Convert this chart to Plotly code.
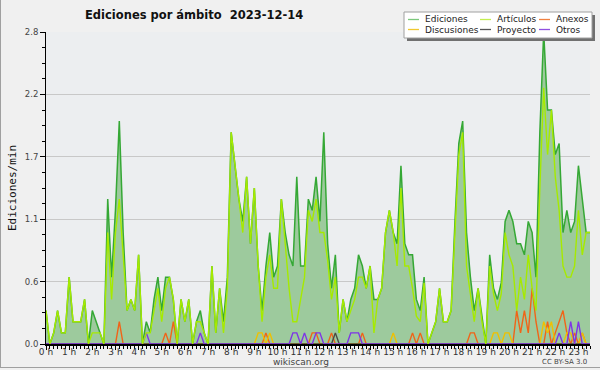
import plotly.graph_objects as go
import pandas as pd

DAY = "2023-12-14"
TITLE = "Ediciones por ámbito  2023-12-14"
Y_TITLE = "Ediciones/min"

# 10-minute slots from 00:00 to 23:30
times = pd.date_range(f"{DAY} 00:00", f"{DAY} 23:30", freq="10min")
slot_labels = [t.strftime("%H:%M") for t in times]

# Ediciones (total, edits/min averaged per 10 min), one row per hour
ediciones = [
    0.3, 0.0, 0.1, 0.3, 0.1, 0.1,
    0.6, 0.2, 0.2, 0.2, 0.4, 0.0,
    0.3, 0.2, 0.1, 0.0, 1.3, 0.6,
    1.2, 2.0, 1.0, 0.3, 0.4, 0.3,
    0.8, 0.0, 0.2, 0.1, 0.4, 0.6,
    0.3, 0.6, 0.6, 0.4, 0.0, 0.4,
    0.2, 0.4, 0.0, 0.2, 0.3, 0.1,
    0.0, 0.7, 0.1, 0.5, 0.2, 0.6,
    1.9, 1.6, 1.3, 1.1, 1.5, 0.9,
    1.4, 0.7, 0.3, 0.7, 1.0, 0.6,
    0.7, 1.3, 1.0, 0.8, 0.7, 1.5,
    0.7, 0.7, 1.3, 1.2, 1.5, 1.1,
    1.9, 0.9, 0.5, 0.8, 0.1, 0.4,
    0.2, 0.4, 0.5, 0.8, 0.7, 0.5,
    0.7, 0.4, 0.4, 0.5, 1.0, 1.2,
    1.0, 0.9, 1.6, 0.9, 0.8, 0.8,
    0.4, 0.3, 0.6, 0.0, 0.1, 0.2,
    0.5, 0.2, 0.2, 0.3, 1.1, 1.8,
    2.0, 1.0, 0.6, 0.3, 0.5, 0.25,
    0.0, 0.8, 0.5, 0.4, 0.55, 1.1,
    1.2, 1.1, 0.9, 0.9, 0.8, 1.1,
    1.0, 0.6, 1.9, 2.8, 2.1, 2.1,
    1.7, 1.8, 1.0, 1.2, 1.0, 1.1,
    1.6, 1.3, 1.0, 1.0,
]

articulos = [
    0.3, 0.0, 0.1, 0.3, 0.1, 0.1,
    0.6, 0.2, 0.2, 0.2, 0.4, 0.0,
    0.1, 0.1, 0.1, 0.0, 1.0, 0.4,
    1.0, 1.3, 0.8, 0.3, 0.4, 0.3,
    0.8, 0.0, 0.1, 0.1, 0.3, 0.5,
    0.2, 0.5, 0.6, 0.4, 0.0, 0.4,
    0.2, 0.4, 0.0, 0.2, 0.2, 0.1,
    0.0, 0.7, 0.1, 0.5, 0.1, 0.5,
    1.9, 1.6, 1.3, 1.0, 1.5, 0.9,
    1.4, 0.7, 0.2, 0.6, 0.8, 0.5,
    0.5, 1.3, 0.9, 0.5, 0.2, 0.2,
    0.4, 0.6, 1.2, 1.1, 1.3, 1.0,
    1.0, 0.75, 0.4, 0.6, 0.1, 0.4,
    0.2, 0.3, 0.4, 0.6, 0.6, 0.5,
    0.7, 0.1, 0.4, 0.5, 1.0, 1.2,
    1.0, 0.7, 1.4, 0.7, 0.7, 0.5,
    0.25, 0.2, 0.55, 0.0, 0.1, 0.2,
    0.5, 0.2, 0.2, 0.3, 1.0, 1.7,
    1.9, 0.7, 0.45, 0.2, 0.5, 0.2,
    0.0, 0.7, 0.45, 0.3, 0.45, 1.0,
    0.8, 0.7, 0.3, 0.6, 0.4, 0.8,
    0.5, 0.3, 1.4, 2.3, 1.7, 2.1,
    1.5, 1.2, 0.7, 0.6, 0.6, 0.7,
    1.2, 0.8, 1.0, 1.0,
]

# sparse series: slot -> value (all other slots are 0)
anexos_pts = {
    "03:10": 0.2, "05:10": 0.1, "05:30": 0.2, "09:30": 0.1, "11:30": 0.1,
    "11:40": 0.1, "12:20": 0.1, "13:40": 0.1, "15:50": 0.1, "16:10": 0.1,
    "18:20": 0.1, "18:30": 0.1, "20:20": 0.3, "20:30": 0.1, "20:40": 0.3,
    "20:50": 0.1, "21:00": 0.5, "21:10": 0.2, "21:40": 0.2, "22:00": 0.1,
    "22:10": 0.2, "22:20": 0.3, "22:30": 0.1, "22:50": 0.1, "23:10": 0.1,
}
discusiones_pts = {
    "09:10": 0.1, "09:20": 0.1, "09:40": 0.1, "15:00": 0.1, "19:20": 0.1,
    "19:30": 0.1, "19:50": 0.1, "20:00": 0.1, "21:30": 0.2, "21:40": 0.1,
    "21:50": 0.2, "22:30": 0.1, "22:40": 0.1, "23:10": 0.1,
}
proyecto_pts = {"12:30": 0.1}
otros_pts = {
    "04:20": 0.1, "06:40": 0.1, "10:40": 0.1, "10:50": 0.1, "11:10": 0.1,
    "11:40": 0.1, "11:50": 0.1, "13:10": 0.1, "13:20": 0.1, "13:30": 0.1,
    "22:10": 0.1, "22:40": 0.2, "23:00": 0.2,
}


def expand(pts):
    return [pts.get(s, 0.0) for s in slot_labels]


y_tickvals = [0.0, 0.56, 1.12, 1.68, 2.24, 2.8]
y_ticktext = ["0.0", "0.6", "1.1", "1.7", "2.2", "2.8"]

series_names = ["Ediciones", "Artículos", "Anexos", "Discusiones", "Proyecto", "Otros"]
series_colors = ["#35a835", "#a6ea00", "#f06418", "#f0c000", "#4a4a44", "#7e34e6"]
legend_colors = ["#7cc87c", "#c4ee50", "#f08040", "#f0c830", "#555555", "#9050e0"]
FILL = "#9dca9d"

series_values = [
    ediciones, articulos, expand(anexos_pts), expand(discusiones_pts),
    expand(proyecto_pts), expand(otros_pts),
]

fig = go.Figure()
fig.add_trace(go.Scatter(
    x=times, y=ediciones, mode="lines", name=series_names[0],
    fill="tozeroy", fillcolor=FILL,
    line=dict(color=series_colors[0], width=1.5), showlegend=False,
))
# small series first, then Artículos on top
for k in [2, 3, 4, 5, 1]:
    fig.add_trace(go.Scatter(
        x=times, y=series_values[k], mode="lines", name=series_names[k],
        line=dict(color=series_colors[k], width=1.4), showlegend=False,
    ))

# geometry helpers (pixels -> paper)
L, R, T, B = 46, 10, 32, 26
W, H = 600, 370
PW, PH = W - L - R, H - T - B


def px(x):
    return (x - L) / PW


def py(y):
    return (H - B - y) / PH


shapes = []
annotations = []

# legend box with shadow
shapes.append(dict(type="rect", xref="paper", yref="paper",
                   x0=px(407), x1=px(595), y0=py(41), y1=py(15),
                   fillcolor="#707070", line=dict(width=0), layer="above"))
shapes.append(dict(type="rect", xref="paper", yref="paper",
                   x0=px(404), x1=px(592), y0=py(38), y1=py(12),
                   fillcolor="#ffffff", line=dict(color="#a0a0a0", width=1), layer="above"))
col_x = [408, 480, 539]
row_y = [19.5, 29.5]
for n, k in enumerate(range(len(series_names))):
    c, r = n % 3, n // 3
    shapes.append(dict(type="line", xref="paper", yref="paper",
                       x0=px(col_x[c]), x1=px(col_x[c] + 11), y0=py(row_y[r]), y1=py(row_y[r]),
                       line=dict(color=legend_colors[k], width=1.3), layer="above"))
    annotations.append(dict(text=series_names[k], xref="paper", yref="paper",
                            x=px(col_x[c] + 15), y=py(row_y[r]), xanchor="left", yanchor="middle",
                            showarrow=False, font=dict(family="DejaVu Sans", size=9, color="#222222")))

# outer frame (left and bottom)
shapes.append(dict(type="line", xref="paper", yref="paper", x0=px(0.5), x1=px(0.5),
                   y0=py(0), y1=py(368), line=dict(color="#a0a0a0", width=1)))
shapes.append(dict(type="line", xref="paper", yref="paper", x0=px(0), x1=px(600),
                   y0=py(367.5), y1=py(367.5), line=dict(color="#a0a0a0", width=1)))

annotations.append(dict(text="wikiscan.org", xref="paper", yref="paper", x=px(301), y=py(362),
                        xanchor="center", yanchor="middle", showarrow=False,
                        font=dict(family="DejaVu Sans", size=9, color="#444444")))
annotations.append(dict(text="CC BY-SA 3.0", xref="paper", yref="paper", x=px(589), y=py(362),
                        xanchor="right", yanchor="middle", showarrow=False,
                        font=dict(family="DejaVu Sans", size=7, color="#444444")))

fig.update_layout(
    width=W, height=H,
    margin=dict(l=L, r=R, t=T, b=B, autoexpand=False),
    paper_bgcolor="#f0f0f0", plot_bgcolor="#eceef0",
    title=dict(text=TITLE, xref="container", yref="container", x=85 / W, xanchor="left",
               y=1 - 15 / H, yanchor="middle", automargin=False,
               font=dict(family="DejaVu Sans", size=11.5, color="#111111", weight="bold")),
    shapes=shapes, annotations=annotations,
    showlegend=False,
    xaxis=dict(
        type="date", range=[times[0], times[-1]], automargin=False,
        tick0=f"{DAY} 00:00", dtick=3600000, tickformat="%-H h", tickangle=0,
        ticks="outside", ticklen=4, tickcolor="#000", tickwidth=1,
        ticklabelstandoff=-6,
        showline=True, linecolor="#000", linewidth=2,
        showgrid=False, zeroline=False,
        tickfont=dict(family="DejaVu Sans", size=9, color="#333333"),
        minor=dict(dtick=600000, tick0=f"{DAY} 00:00", ticks="outside", ticklen=3,
                   tickcolor="#000", showgrid=False),
    ),
    yaxis=dict(
        range=[0, 2.8], tickmode="array", tickvals=y_tickvals, ticktext=y_ticktext,
        automargin=False,
        ticks="outside", ticklen=5, tickcolor="#000", tickwidth=1,
        showline=True, linecolor="#000", linewidth=1,
        showgrid=True, gridcolor="#c8c8c8", gridwidth=1, zeroline=False,
        tickfont=dict(family="DejaVu Sans", size=8.5, color="#444444"),
        minor=dict(tick0=0, dtick=0.14, ticks="outside", ticklen=3, tickcolor="#000", showgrid=False),
        title=dict(text=Y_TITLE, standoff=5,
                   font=dict(family="DejaVu Sans Mono", size=11, color="#111111")),
    ),
)

fig.write_html(
    "out.html",
    config={"displayModeBar": False},
    post_script="document.body.style.margin='0';document.body.style.background='#f0f0f0';",
)
